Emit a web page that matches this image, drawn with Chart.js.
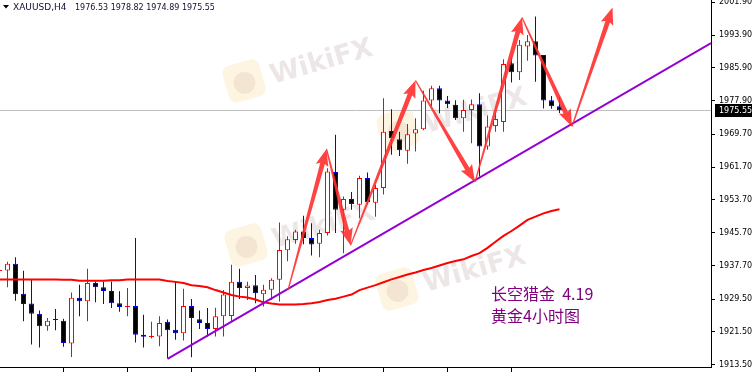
<!DOCTYPE html>
<html>
<head>
<meta charset="utf-8">
<title>XAUUSD H4</title>
<script src="https://cdn.jsdelivr.net/npm/chart.js@4.4.1/dist/chart.umd.min.js"></script>
<style>
    html, body { margin: 0; padding: 0; background: #fff; }
    #caixa { width: 752px; height: 372px; }
</style>
</head>
<body>
<div id="caixa"><canvas id="grafico" width="752" height="372"></canvas></div>
<script>
// Dados das velas (a primeira fica cortada na borda esquerda)
const abertura = [1936.4, 1936.5, 1938.1, 1930.8, 1928.4, 1925.9, 1922.9, 1924.6, 1924.2, 1918.7,
    1929.8, 1929.0, 1933.4, 1932.4, 1931.5, 1928.5, 1927.6, 1927.8, 1920.8, 1920.3,
    1920.4, 1924.0, 1922.0, 1921.2, 1927.8, 1924.6, 1923.7, 1922.2, 1925.3, 1925.4,
    1933.7, 1932.2, 1932.9, 1930.7, 1931.8, 1934.2, 1941.4, 1943.9, 1946.0, 1944.4,
    1943.0, 1945.6, 1960.5, 1951.3, 1953.9, 1952.5, 1959.0, 1953.0, 1956.6, 1970.5,
    1968.5, 1965.7, 1969.9, 1970.9, 1977.9, 1980.9, 1977.9, 1976.8, 1973.6, 1975.6,
    1977.0, 1966.7, 1971.7, 1972.7, 1987.0, 1984.8, 1991.1, 1992.4, 1989.0, 1978.0,
    1976.53];
const maxima = [1936.9, 1938.6, 1939.7, 1936.4, 1934.2, 1926.7, 1924.9, 1927.1, 1924.7, 1931.1,
    1933.0, 1936.9, 1933.8, 1933.8, 1933.8, 1931.4, 1932.2, 1944.4, 1925.7, 1924.0,
    1925.3, 1924.5, 1933.7, 1932.0, 1929.5, 1926.7, 1927.3, 1927.4, 1931.7, 1937.9,
    1936.9, 1933.7, 1935.4, 1933.0, 1934.6, 1948.2, 1944.8, 1946.4, 1949.8, 1948.0,
    1946.4, 1961.4, 1969.6, 1954.5, 1955.6, 1959.6, 1960.4, 1957.3, 1978.5, 1975.8,
    1970.3, 1972.2, 1973.6, 1980.3, 1981.5, 1981.5, 1979.0, 1978.0, 1978.1, 1978.2,
    1979.7, 1974.3, 1975.0, 1988.0, 1988.4, 1992.7, 1993.9, 1998.4, 1989.0, 1979.0,
    1978.82];
const minima = [1936.0, 1932.4, 1929.1, 1924.1, 1918.4, 1917.7, 1921.8, 1921.9, 1917.9, 1915.4,
    1925.3, 1924.1, 1928.7, 1928.3, 1927.3, 1926.4, 1925.3, 1918.9, 1917.7, 1919.9,
    1918.0, 1915.1, 1919.6, 1919.4, 1915.3, 1922.2, 1920.4, 1920.4, 1920.4, 1924.1,
    1929.5, 1929.3, 1928.5, 1927.7, 1929.3, 1928.9, 1938.7, 1943.0, 1942.9, 1940.1,
    1939.7, 1945.0, 1945.6, 1940.7, 1951.3, 1949.2, 1952.6, 1949.6, 1955.0, 1964.7,
    1964.4, 1962.5, 1965.5, 1970.7, 1976.5, 1974.8, 1976.1, 1973.2, 1970.3, 1967.5,
    1959.4, 1965.9, 1970.3, 1970.3, 1982.3, 1982.9, 1987.6, 1982.5, 1976.0, 1975.9,
    1974.89];
const fechamento = [1936.6, 1938.1, 1930.7, 1928.3, 1925.9, 1922.9, 1924.2, 1924.5, 1918.8, 1929.8,
    1929.0, 1933.4, 1932.4, 1931.5, 1928.5, 1927.6, 1927.8, 1920.8, 1920.3, 1920.5,
    1923.7, 1921.9, 1921.2, 1927.8, 1924.9, 1923.7, 1922.2, 1925.3, 1930.6, 1933.7,
    1932.2, 1932.8, 1930.9, 1931.8, 1934.2, 1941.5, 1944.1, 1946.0, 1944.4, 1942.8,
    1945.6, 1960.6, 1951.3, 1953.9, 1952.7, 1959.0, 1953.1, 1956.6, 1970.3, 1968.7,
    1965.8, 1969.7, 1970.9, 1977.9, 1980.9, 1977.9, 1977.0, 1973.6, 1975.6, 1977.0,
    1966.7, 1971.6, 1973.4, 1986.8, 1984.8, 1991.5, 1992.4, 1988.9, 1977.9, 1976.5,
    1975.55];
// Média móvel vermelha, um valor por vela
const media = [1934.3, 1934.3, 1934.3, 1934.3, 1934.3, 1934.3, 1934.3, 1934.3, 1934.2, 1934.2,
    1934.0, 1934.0, 1934.0, 1934.0, 1934.1, 1934.1, 1934.3, 1934.3, 1934.3, 1934.3,
    1934.3, 1933.9, 1933.7, 1933.4, 1932.9, 1932.7, 1932.4, 1931.7, 1931.1, 1930.5,
    1930.1, 1929.9, 1929.4, 1928.7, 1928.4, 1928.2, 1928.2, 1928.2, 1928.3, 1928.5,
    1928.8, 1929.3, 1929.6, 1930.1, 1930.6, 1931.7, 1932.3, 1932.9, 1933.6, 1934.3,
    1934.9, 1935.5, 1936.0, 1936.6, 1937.1, 1937.7, 1938.3, 1938.8, 1939.2, 1940.0,
    1940.7, 1942.0, 1943.5, 1944.9, 1946.1, 1947.4, 1948.8, 1949.6, 1950.4, 1951.0,
    1951.4];

// Eixos
const rotulosY = [2001.9, 1993.9, 1985.9, 1977.9, 1969.7, 1961.7, 1953.7, 1945.7, 1937.7, 1929.5, 1921.5, 1913.5];
const marcasX = [7, 15, 23, 31, 39, 47, 55, 63];

// Linha de tendência roxa (índice da vela, preço)
const linhaX = [20, 87.94];
const linhaY = [1914.9, 1991.95];

// Setas vermelhas desenhadas à mão (índice da vela, preço)
const setaX = [35.06, 39.88, 42.88, 51.0, 58.44, 64.31, 70.56, 75.63];
const setaY = [1931.7, 1966.1, 1942.6, 1982.8, 1958.05, 1998.17, 1971.6, 2000.6];

const titulo = "XAUUSD,H4";
const cotacao = "1976.53 1978.82 1974.89 1975.55";
const ultimo = 1975.55;

const velas = abertura.map((_, k) => k - 1);
const alta = abertura.map((a, k) => fechamento[k] >= a);

// separa as velas de alta e de baixa, cada grupo com uma cor fixa
function pavios(subindo) {
    return velas.map((v, k) => ({ x: v, y: alta[k] === subindo ? [minima[k], maxima[k]] : null }));
}
function corpos(subindo) {
    return velas.map((v, k) => {
        if (alta[k] !== subindo) return { x: v, y: null };
        const a = abertura[k], f = fechamento[k];
        if (Math.abs(f - a) < 0.25) {
            const m = (a + f) / 2;
            return { x: v, y: [m - 0.12, m + 0.12] };
        }
        return { x: v, y: [Math.min(a, f), Math.max(a, f)] };
    });
}

function desenharSeta(ctx, x0, y0, x1, y1) {
    const dx = x1 - x0, dy = y1 - y0;
    const comp = Math.hypot(dx, dy);
    const ux = dx / comp, uy = dy / comp;
    const nx = -uy, ny = ux;
    const cab = 15, larg = 6.5, w0 = 0.6, w1 = 2.4;
    const bx = x1 - ux * cab, by = y1 - uy * cab;
    ctx.beginPath();
    ctx.moveTo(x0 + nx * w0, y0 + ny * w0);
    ctx.lineTo(bx + nx * w1, by + ny * w1);
    ctx.lineTo(bx + nx * larg - ux * 2, by + ny * larg - uy * 2);
    ctx.lineTo(x1, y1);
    ctx.lineTo(bx - nx * larg - ux * 2, by - ny * larg - uy * 2);
    ctx.lineTo(bx - nx * w1, by - ny * w1);
    ctx.lineTo(x0 - nx * w0, y0 - ny * w0);
    ctx.closePath();
    ctx.fill();
}

function desenharMarca(ctx, cx, cy) {
    ctx.save();
    ctx.translate(cx, cy);
    ctx.rotate(-0.28);
    ctx.fillStyle = "rgba(250, 232, 190, 0.45)";
    ctx.beginPath();
    ctx.roundRect(-19, -19, 38, 38, 8);
    ctx.fill();
    ctx.fillStyle = "rgba(225, 200, 180, 0.35)";
    ctx.beginPath();
    ctx.arc(0, 2, 11, 0, Math.PI * 2);
    ctx.fill();
    ctx.fillStyle = "rgba(215, 200, 200, 0.45)";
    ctx.font = "bold 27px 'DejaVu Sans'";
    ctx.textBaseline = "alphabetic";
    ctx.fillText("WikiFX", 27, 11);
    ctx.restore();
}

const desenhos = {
    id: "desenhos",
    beforeDraw(chart) {
        const ctx = chart.ctx;
        ctx.save();
        ctx.fillStyle = "#ffffff";
        ctx.fillRect(0, 0, chart.width, chart.height);
        ctx.restore();
    },
    beforeDatasetsDraw(chart) {
        const ctx = chart.ctx;
        const area = chart.chartArea;
        const y = chart.scales.y;
        ctx.save();
        // marcas d'água
        desenharMarca(ctx, area.left + 244, area.top + 81);
        desenharMarca(ctx, area.left + 246, area.top + 245);
        desenharMarca(ctx, area.left + 397, area.top + 289);
        desenharMarca(ctx, area.left + 398, area.top + 130);
        // linha do preço atual
        const py = Math.round(y.getPixelForValue(ultimo)) + 0.5;
        ctx.strokeStyle = "#c0c0c0";
        ctx.lineWidth = 1;
        ctx.beginPath();
        ctx.moveTo(area.left, py);
        ctx.lineTo(area.right, py);
        ctx.stroke();
        ctx.restore();
    },
    afterDatasetsDraw(chart) {
        const ctx = chart.ctx;
        const x = chart.scales.x, y = chart.scales.y;
        const area = chart.chartArea;
        ctx.save();
        ctx.fillStyle = "rgba(255, 45, 45, 0.9)";
        for (let k = 0; k < setaX.length - 1; k++) {
            desenharSeta(ctx,
                x.getPixelForValue(setaX[k]), y.getPixelForValue(setaY[k]),
                x.getPixelForValue(setaX[k + 1]), y.getPixelForValue(setaY[k + 1]));
        }
        // texto do autor
        ctx.fillStyle = "#800080";
        ctx.font = "16px 'Noto Sans CJK SC'";
        ctx.textBaseline = "alphabetic";
        ctx.fillText("长空猎金  4.19", area.left + 491, area.top + 300);
        ctx.fillText("黄金4小时图", area.left + 491, area.top + 322);
        ctx.restore();
    },
    afterDraw(chart) {
        const ctx = chart.ctx;
        const y = chart.scales.y;
        const area = chart.chartArea;
        ctx.save();
        // caixa do último preço
        const py = y.getPixelForValue(ultimo);
        ctx.fillStyle = "#000000";
        ctx.fillRect(area.right + 4, Math.round(py) - 6, chart.width - area.right - 4, 13);
        ctx.fillStyle = "#ffffff";
        ctx.font = "8px 'DejaVu Sans'";
        ctx.textBaseline = "middle";
        ctx.fillText(ultimo.toFixed(2), area.right + 8, Math.round(py) + 0.5);
        // título
        ctx.fillStyle = "#000000";
        ctx.beginPath();
        ctx.moveTo(3, 5);
        ctx.lineTo(9, 5);
        ctx.lineTo(6, 8.5);
        ctx.closePath();
        ctx.fill();
        ctx.fillStyle = "#101030";
        ctx.textBaseline = "alphabetic";
        ctx.font = "9px 'DejaVu Sans'";
        ctx.fillText(titulo, 13, 10);
        ctx.font = "8px 'DejaVu Sans'";
        ctx.fillText(cotacao, 75, 10);
        ctx.restore();
    }
};

// opções comuns das barras (com grouped: false vale maxBarThickness)
const barra = { grouped: false, inflateAmount: 0, borderSkipped: false };

const ctx = document.getElementById("grafico").getContext("2d");

new Chart(ctx, {
    type: "bar",
    data: {
        datasets: [
            {
                type: "line",
                label: "Tendência",
                data: linhaX.map((v, k) => ({ x: v, y: linhaY[k] })),
                borderColor: "#9400d3",
                borderWidth: 2,
                pointRadius: 0,
                order: 0,
            },
            {
                type: "line",
                label: "Média",
                data: velas.map((v, k) => ({ x: v, y: media[k] })),
                borderColor: "#ff0000",
                borderWidth: 2,
                pointRadius: 0,
                order: 1,
            },
            { ...barra, label: "Corpo alta", data: corpos(true), backgroundColor: "#ffffff", borderColor: "#ff0000", borderWidth: 1, maxBarThickness: 5, order: 2 },
            { ...barra, label: "Corpo baixa", data: corpos(false), backgroundColor: "#000000", borderColor: "#0000ff", borderWidth: 1, maxBarThickness: 5, order: 2 },
            { ...barra, label: "Pavio alta", data: pavios(true), backgroundColor: "#ff0000", borderWidth: 0, maxBarThickness: 1, order: 3 },
            { ...barra, label: "Pavio baixa", data: pavios(false), backgroundColor: "#0000ff", borderWidth: 0, maxBarThickness: 1, order: 3 },
        ],
    },
    options: {
        responsive: false,
        animation: false,
        devicePixelRatio: 1,
        layout: { padding: 0 },
        plugins: {
            legend: { display: false },
            tooltip: { enabled: false },
        },
        scales: {
            x: {
                type: "linear",
                min: -0.9375,
                max: 87.9375,
                offset: false,
                grid: { offset: false, drawOnChartArea: false, drawTicks: true, tickLength: 5, color: "#000" },
                border: { color: "#000" },
                ticks: { display: false },
                afterBuildTicks: (s) => { s.ticks = marcasX.map((v) => ({ value: v })); },
                afterFit: (s) => {
                    s.height = 5;
                    s.paddingLeft = 0;
                    s.paddingRight = 0;
                },
            },
            y: {
                position: "right",
                min: 1912.94,
                max: 2002.435,
                grid: { offset: false, drawOnChartArea: false, drawTicks: true, tickLength: 4, color: "#000" },
                border: { color: "#000" },
                ticks: {
                    color: "#000",
                    padding: 4,
                    font: { family: "DejaVu Sans", size: 8 },
                    callback: (v) => Number(v).toFixed(2),
                },
                afterBuildTicks: (s) => { s.ticks = rotulosY.map((v) => ({ value: v })); },
                afterFit: (s) => {
                    s.width = 41;
                    s.paddingTop = 0;
                    s.paddingBottom = 0;
                },
            },
        },
    },
    plugins: [desenhos],
});
</script>
</body>
</html>
